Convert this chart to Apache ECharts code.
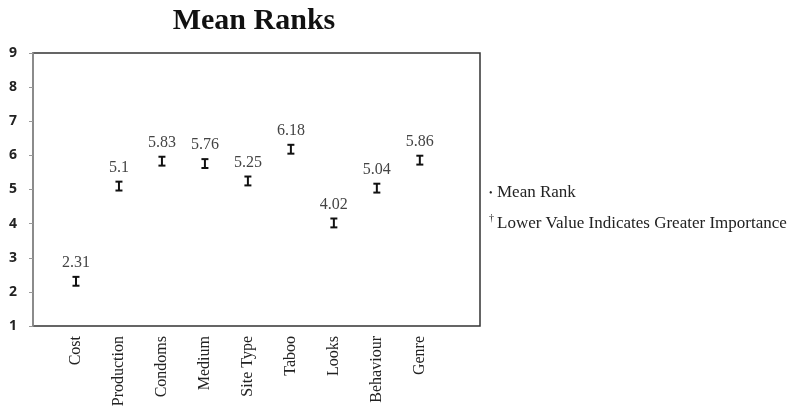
<!DOCTYPE html>
<html><head><meta charset="utf-8">
<script src="https://cdn.jsdelivr.net/npm/echarts@6/dist/echarts.min.js"></script>
<style>html,body{margin:0;padding:0;background:#fff}#c{width:800px;height:418px}</style>
</head><body><div id="c"></div>
<script>
var categories = ['Cost','Production','Condoms','Medium','Site Type','Taboo','Looks','Behaviour','Genre'];
var meanRanks = [2.31, 5.1, 5.83, 5.76, 5.25, 6.18, 4.02, 5.04, 5.86];
var errors = [0.13, 0.13, 0.13, 0.13, 0.13, 0.13, 0.13, 0.13, 0.13];
var yTicks = [1,2,3,4,5,6,7,8,9];

var chart = echarts.init(document.getElementById('c'));
var pts = meanRanks.map(function(v,i){ return [i+1, v, v-errors[i], v+errors[i]]; });
chart.setOption({
  animation:false,
  backgroundColor:'#fff',
  title:{text:'Mean Ranks', left:249, top:1, textAlign:'center',
    textStyle:{fontFamily:'Liberation Serif', fontWeight:'bold', fontSize:30, color:'#111'}},
  grid:{left:33, right:320, top:53, bottom:92, show:true, borderColor:'#333', borderWidth:1.5},
  xAxis:{type:'value', min:0, max:10.4, interval:1,
    axisLine:{show:false}, axisTick:{show:false}, splitLine:{show:false},
    axisLabel:{rotate:90, margin:10, fontFamily:'Liberation Serif', fontSize:16, color:'#222',
      formatter:function(v){ return (v>=1 && v<=categories.length && v===Math.round(v)) ? categories[v-1] : ''; }}},
  yAxis:{type:'value', min:yTicks[0], max:yTicks[yTicks.length-1], interval:1,
    axisLine:{show:true, lineStyle:{color:'#999', width:1.5}},
    axisTick:{show:true, length:4, lineStyle:{color:'#999'}},
    splitLine:{show:false},
    axisLabel:{margin:16, fontFamily:'Open Sans', fontWeight:'bold', fontSize:14, color:'#222'}},
  series:[{
    type:'custom',
    data:pts,
    renderItem:function(params, api){
      var c = api.coord([api.value(0), api.value(1)]);
      var lo = api.coord([api.value(0), api.value(2)]);
      var hi = api.coord([api.value(0), api.value(3)]);
      var w = 3.5;
      var st = {stroke:'#111', lineWidth:2};
      return {type:'group', children:[
        {type:'line', shape:{x1:c[0], y1:lo[1], x2:c[0], y2:hi[1]}, style:st},
        {type:'line', shape:{x1:c[0]-w, y1:lo[1], x2:c[0]+w, y2:lo[1]}, style:st},
        {type:'line', shape:{x1:c[0]-w, y1:hi[1], x2:c[0]+w, y2:hi[1]}, style:st},
        {type:'text', style:{text:String(api.value(1)), x:c[0], y:hi[1]-6, align:'center', verticalAlign:'bottom',
          font:'16px "Liberation Serif"', fill:'#444'}}
      ]};
    }
  }],
  graphic:[
    {type:'text', left:489, top:188, style:{text:'\u2022', font:'10px "Liberation Serif"', fill:'#222'}},
    {type:'text', left:497, top:184, style:{text:'Mean Rank', font:'17px "Liberation Serif"', fill:'#222'}},
    {type:'text', left:489, top:213, style:{text:'\u2020', font:'10px "Liberation Serif"', fill:'#222'}},
    {type:'text', left:497, top:215, style:{text:'Lower Value Indicates Greater Importance', font:'17px "Liberation Serif"', fill:'#222'}}
  ]
});
</script></body></html>
